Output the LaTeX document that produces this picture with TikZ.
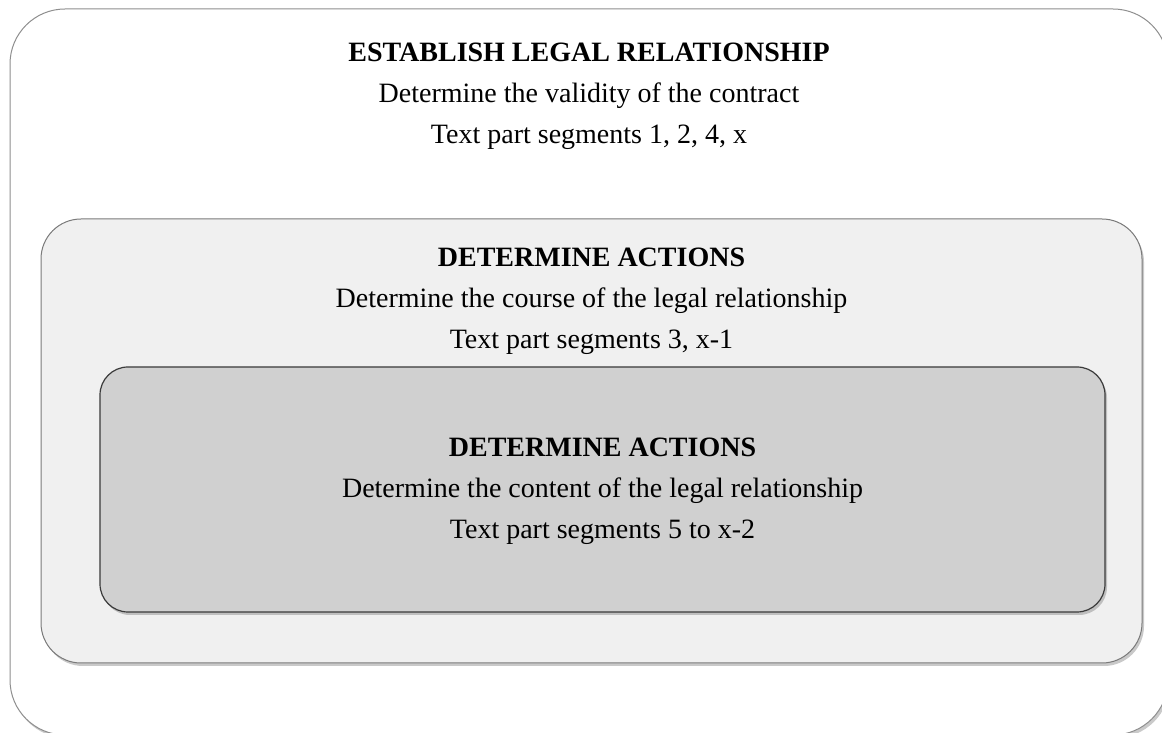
\documentclass[tikz,border=0pt]{standalone}
\usepackage{fontspec}
\setmainfont{Liberation Serif}
\usepackage{tikz}
\usepackage{xcolor}
\usetikzlibrary{positioning,shadows}
\definecolor{outer-line}{HTML}{8E8E8E}
\definecolor{middle-line}{HTML}{7A7A7A}
\definecolor{middle-fill}{HTML}{F0F0F0}
\definecolor{inner-line}{HTML}{3A3A3A}
\definecolor{inner-fill}{HTML}{D0D0D0}
\tikzset{
    x=1pt, y=1pt,
    rounded-box/.style = {rectangle, inner sep=0pt, line width=1pt, drop shadow={shadow xshift=2pt, shadow yshift=-3pt, fill=black!60, opacity=0.35}},
    outer-box/.style = {rounded-box, draw=outer-line, fill=white, rounded corners=55pt, minimum width=1158pt, minimum height=726pt},
    middle-box/.style = {rounded-box, draw=middle-line, fill=middle-fill, rounded corners=40pt, minimum width=1101pt, minimum height=444pt},
    inner-box/.style = {rounded-box, draw=inner-line, fill=inner-fill, line width=1.2pt, rounded corners=28pt, minimum width=1005pt, minimum height=245pt},
    box-text/.style = {align=center, inner sep=0pt, font=\fontsize{28}{41}\selectfont},
}

\begin{document}
\begin{tikzpicture}
\useasboundingbox (0,0) rectangle (1162,733);
\clip (0,0) rectangle (1162,733);
\node [outer-box] (relationship) at (589,361) {};
\node [middle-box] (course) at (591.5,292) {};
\node [inner-box] (content) at (602.5,243.5) {};

\node [box-text, below=34pt of relationship.north] (relationship-text) {\textbf{ESTABLISH LEGAL RELATIONSHIP}\\
    Determine the validity of the contract\\
    Text part segments 1, 2, 4, x};
\node [box-text, below=29pt of course.north] (course-text) {\textbf{DETERMINE ACTIONS}\\
    Determine the course of the legal relationship\\
    Text part segments 3, x-1};
\node [box-text, below=71pt of content.north] (content-text) {\textbf{DETERMINE ACTIONS}\\
    Determine the content of the legal relationship\\
    Text part segments 5 to x-2};
\end{tikzpicture}
\end{document}
